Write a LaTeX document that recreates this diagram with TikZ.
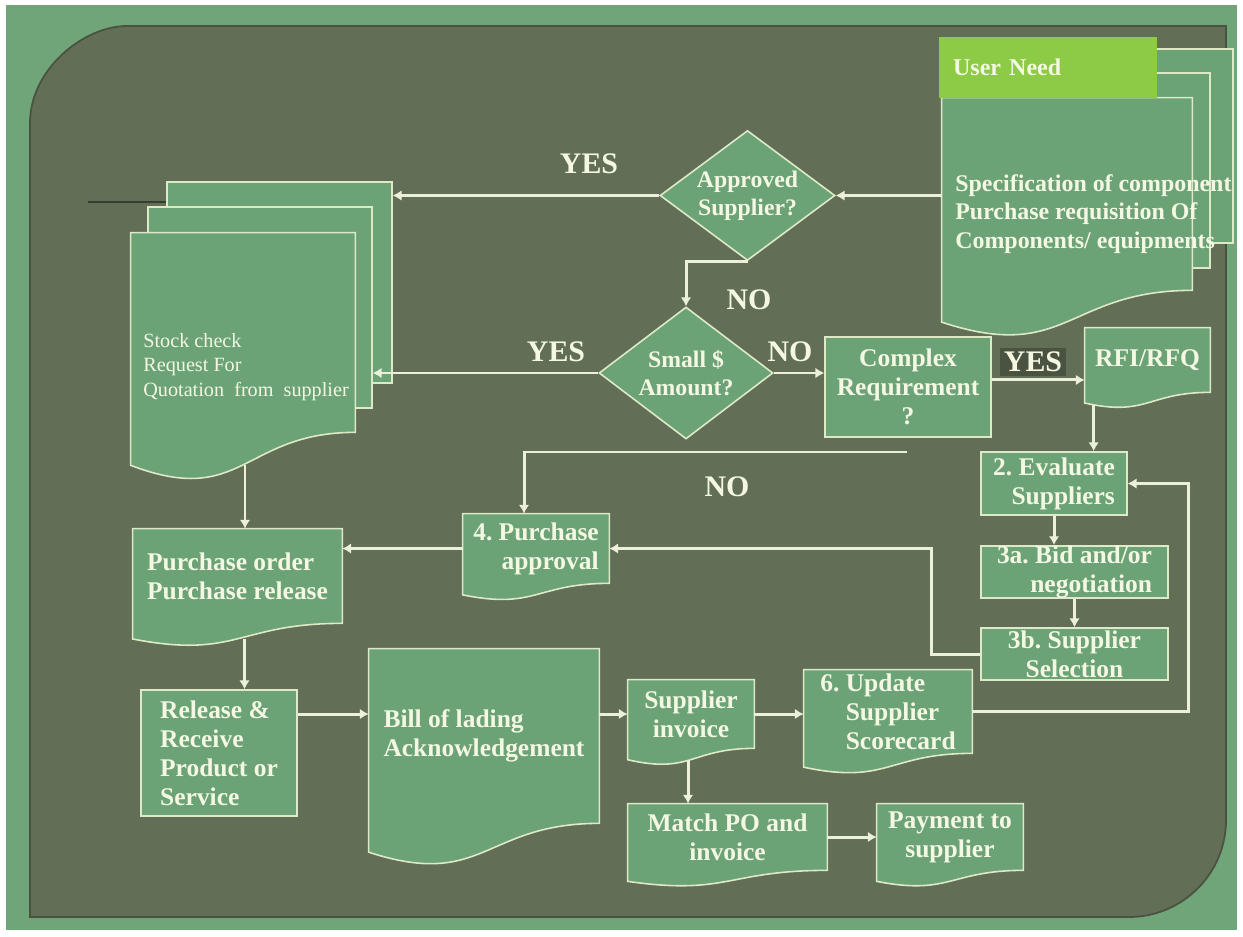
\documentclass[tikz,border=0pt]{standalone}
\usepackage{fontspec}
\setmainfont{Liberation Serif}
\usetikzlibrary{calc,positioning,shapes.geometric,arrows.meta}

\definecolor{framegreen}{RGB}{111,165,121}
\definecolor{panel}{RGB}{99,110,87}
\definecolor{boxgreen}{RGB}{107,163,119}
\definecolor{needgreen}{RGB}{141,203,70}
\definecolor{edgecream}{RGB}{222,233,200}
\definecolor{linecream}{RGB}{236,240,218}
\definecolor{txtcream}{RGB}{244,247,226}

\newlength{\unitpx}
\setlength{\unitpx}{0.02cm}

\tikzset{
	rim/.style={draw=edgecream, line width=0.9pt},
	box/.style={rim, fill=boxgreen, text=txtcream, font=\fontsize{14.5}{16.5}\selectfont\bfseries, inner sep=0pt},
	docbox/.style={fill=boxgreen, text=txtcream, font=\fontsize{14.5}{16.5}\selectfont\bfseries, inner sep=0pt},
	sheet/.style={rim, fill=boxgreen},
	ask/.style={diamond, aspect=1.35, rim, fill=boxgreen, text=txtcream, font=\fontsize{13.5}{16}\selectfont\bfseries, inner sep=0pt, align=center},
	flow/.style={draw=linecream, line width=1.7pt, -{Latex[length=5pt,width=6pt]}},
	answer/.style={text=txtcream, font=\fontsize{17}{20}\selectfont\bfseries}
}

\def\docwave(#1){\fill[boxgreen] ($(#1.south east)+(0,-2)$) -- (#1.south east) .. controls (#1.south) and ($(#1.south)!-0.38!(#1.north)$) .. ($(#1.south west)!-0.165!(#1.north west)$) -- ($(#1.south west)+(0,-2)$) -- cycle;
	\draw[rim] (#1.north west) -- (#1.north east) -- (#1.south east) .. controls (#1.south) and ($(#1.south)!-0.38!(#1.north)$) .. ($(#1.south west)!-0.165!(#1.north west)$) -- cycle;}

\begin{document}
\frenchspacing
\begin{tikzpicture}[x=0.02cm, y=-0.02cm]
			%%%%% START %%%%%
			
			\useasboundingbox (0,0) rectangle (1243,936);
			\fill[white] (0,0) rectangle (1243,936);
			\fill[framegreen] (6,5) rectangle (1237,930);
			\filldraw[fill=panel, draw=panel!75!black, line width=1pt] (30,917) -- (30,123) .. controls (30,69) and (84,26) .. (127,26) -- (1226,26) -- (1226,820) .. controls (1226,874) and (1182,917) .. (1129,917) -- cycle;
			\draw[panel!55!black, line width=0.6pt] (88,202) -- (167,202);
			
			\node[sheet, minimum width=258\unitpx, minimum height=194\unitpx] (un3) at (1104,146) {};
			\node[sheet, minimum width=252\unitpx, minimum height=195\unitpx] (un2) at (1084,170.5) {};
			\node[docbox, minimum width=250\unitpx, minimum height=192\unitpx] (un1) at (1067,194) {};
			\docwave(un1)
			\node[fill=needgreen, text=txtcream, font=\fontsize{13.7}{16}\selectfont\bfseries, minimum width=218\unitpx, minimum height=61\unitpx, text width=190\unitpx, align=left, inner sep=0pt] (need) at (1048,67.5) {User Need};
			\node[anchor=west, align=left, inner sep=0pt, text=txtcream, font=\fontsize{13.6}{16.2}\selectfont\bfseries] (untxt) at (955,214) {Specification of component\\Purchase requisition Of\\Components/ equipments};
			
			\node[sheet, minimum width=225\unitpx, minimum height=201\unitpx] (stk3) at (279.5,282.5) {};
			\node[sheet, minimum width=224\unitpx, minimum height=201\unitpx] (stk2) at (260,307.5) {};
			\node[docbox, minimum width=224\unitpx, minimum height=199\unitpx] (stk1) at (243,332.5) {};
			\docwave(stk1)
			\node[anchor=west, align=left, inner sep=0pt, text=txtcream, font=\fontsize{11.5}{13.9}\selectfont] (stktxt) at (143,367) {Stock check\\Request For\\Quotation~~from~~supplier};
			
			\node[ask, minimum width=175\unitpx, minimum height=130\unitpx] (aps) at (747.5,195.5) {Approved\\Supplier?};
			\node[ask, minimum width=174\unitpx, minimum height=132\unitpx] (sma) at (686,373) {Small \$\\Amount?};
			\node[box, minimum width=166\unitpx, minimum height=100\unitpx, align=center] (cplx) at (908,387) {Complex\\Requirement\\?};
			
			\node[docbox, minimum width=125\unitpx, minimum height=64\unitpx, align=center] (rfi) at (1147.5,360) {RFI/RFQ};
			\node[box, minimum width=146\unitpx, minimum height=63\unitpx, align=right] (evl) at (1054,483.5) {2. Evaluate\\Suppliers};
			\node[box, minimum width=187\unitpx, minimum height=52\unitpx, align=right] (bid) at (1074.5,572) {3a. Bid and/or\\negotiation};
			\node[box, minimum width=187\unitpx, minimum height=52\unitpx, align=center] (sel) at (1074.5,654) {3b. Supplier\\Selection};
			
			\node[docbox, minimum width=146\unitpx, minimum height=69\unitpx, align=right] (appr) at (536,548.5) {4. Purchase\\approval};
			\node[docbox, minimum width=209\unitpx, minimum height=94\unitpx, align=left] (po) at (237.5,576) {Purchase order\\Purchase release};
			\node[box, minimum width=156\unitpx, minimum height=126\unitpx, align=left] (rel) at (219,753) {Release \&\\Receive\\Product or\\Service};
			\node[docbox, minimum width=230\unitpx, minimum height=174\unitpx, align=left] (bill) at (484,736) {Bill of lading\\Acknowledgement};
			\node[docbox, minimum width=126\unitpx, minimum height=68\unitpx, align=center] (inv) at (691,714) {Supplier\\invoice};
			\node[docbox, minimum width=168\unitpx, minimum height=83\unitpx, align=left] (upd) at (888,711.5) {6. Update\\\hspace*{1em}Supplier\\\hspace*{1em}Scorecard};
			\node[docbox, minimum width=199\unitpx, minimum height=66\unitpx, align=center] (mat) at (727.5,837) {Match PO and\\invoice};
			\node[docbox, minimum width=146\unitpx, minimum height=66\unitpx, align=center] (pay) at (950,837) {Payment to\\supplier};
			
			\docwave(rfi)
			\docwave(appr)
			\docwave(po)
			\docwave(bill)
			\docwave(inv)
			\docwave(upd)
			\docwave(mat)
			\docwave(pay)
			
			\node[answer] (yes1) at (589,164) {YES};
			\node[answer] (no1) at (749,300) {NO};
			\node[answer] (yes2) at (556,352) {YES};
			\node[answer] (no2) at (790,352) {NO};
			\node[answer, fill=panel!75!black, inner sep=2pt] (yes3) at (1033,362) {YES};
			\node[answer] (no3) at (727,487) {NO};
			
			\draw[flow] (un1.west |- aps.east) -- (aps.east);
			\draw[flow] (aps.west) -- (aps.west -| stk3.east);
			\draw[flow] (aps.south) -- (aps.south -| sma.north) -- (sma.north);
			\draw[flow] (sma.west) -- (sma.west -| stk2.east);
			\draw[flow] (sma.east) -- (sma.east -| cplx.west);
			
			\coordinate (cplxout) at ([yshift=4pt]cplx.east);
			\draw[flow] (cplxout) -- (cplxout -| rfi.west);
			\coordinate (rfiout) at ($(rfi.south west)!-0.2!(rfi.north west)+(9,0)$);
			\draw[flow] (rfiout) -- (rfiout |- evl.north);
			\draw[flow] (evl.south) -- (evl.south |- bid.north);
			\draw[flow] (bid.south) -- (sel.north);
			
			\coordinate (selturn) at (931,0);
			\draw[flow] (sel.west) -- (sel.west -| selturn) -- (selturn |- appr.east) -- (appr.east);
			\coordinate (nostart) at (907,452);
			\coordinate (noturn) at (524,452);
			\draw[flow] (nostart) -- (noturn) -- (noturn |- appr.north);
			\draw[flow] (appr.west) -- (appr.west -| po.east);
			
			\coordinate (stkout) at ($(stk1.south)!-0.163!(stk1.north)+(2,0)$);
			\draw[flow] (stkout) -- (stkout |- po.north);
			\coordinate (poout) at ($(po.south)!-0.163!(po.north)+(7,0)$);
			\draw[flow] (poout) -- (poout |- rel.north);
			\draw[flow] (inv.west -| rel.east) -- (inv.west -| bill.west);
			\draw[flow] (inv.west -| bill.east) -- (inv.west);
			\draw[flow] (inv.east) -- (inv.east -| upd.west);
			\coordinate (invout) at ($(inv.south)!-0.163!(inv.north)+(-3,0)$);
			\draw[flow] (invout) -- (invout |- mat.north);
			\draw[flow] (mat.east) -- (mat.east -| pay.west);
			
			\coordinate (loopx) at (1188,0);
			\draw[flow] (upd.east) -- (upd.east -| loopx) -- (loopx |- evl.east) -- (evl.east);
			
			%%%%% END %%%%%
\end{tikzpicture}
\end{document}
